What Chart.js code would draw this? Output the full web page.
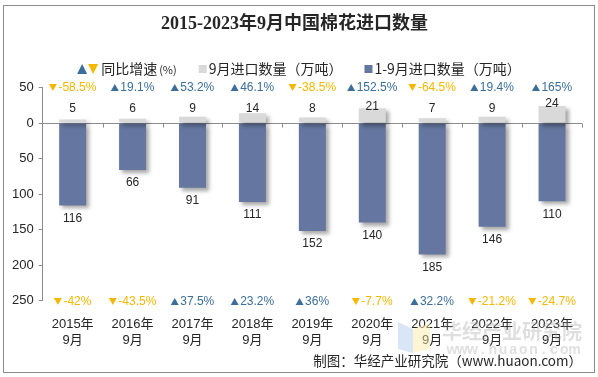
<!DOCTYPE html>
<html><head><meta charset="utf-8">
<script src="https://cdn.jsdelivr.net/npm/chart.js@4.4.0/dist/chart.umd.min.js"></script>
<style>html,body{margin:0;padding:0;background:#fff;}#wrap{width:598px;height:377px;position:relative;}</style>
</head><body><div id="wrap"><canvas id="c" width="598" height="377"></canvas></div>
<script>
// ---- data ----
const categories = [['2015年','9月'],['2016年','9月'],['2017年','9月'],['2018年','9月'],['2019年','9月'],['2020年','9月'],['2021年','9月'],['2022年','9月'],['2023年','9月']];
const septImports = [5, 6, 9, 14, 8, 21, 7, 9, 24];            // 9月进口数量（万吨）
const ytdImports = [116, 66, 91, 111, 152, 140, 185, 146, 110]; // 1-9月进口数量（万吨）
const septYoY = [-58.5, 19.1, 53.2, 46.1, -38.5, 152.5, -64.5, 19.4, 165]; // 9月同比增速(%)
const ytdYoY = [-42, -43.5, 37.5, 23.2, 36, -7.7, 32.2, -21.2, -24.7];      // 1-9月同比增速(%)
const yTickValues = [-50, 0, 50, 100, 150, 200, 250];

const UP = '#3b6e98', DOWN = '#f5b800', GREY = '#d9d9d9', BLUE = '#6577a0', TXT = '#262626';
const SANS = '"Liberation Sans","Noto Sans CJK SC",sans-serif';
const CJK = '"Noto Sans CJK SC","Liberation Sans",sans-serif';

function tri(c, x, y, up, w, h){
  c.beginPath();
  if (up) { c.moveTo(x, y + h/2); c.lineTo(x + w, y + h/2); c.lineTo(x + w/2, y - h/2); }
  else { c.moveTo(x, y - h/2); c.lineTo(x + w, y - h/2); c.lineTo(x + w/2, y + h/2); }
  c.closePath(); c.fill();
}
function pctLabel(c, v, cx, y){
  const t = v + '%';
  const tw = c.measureText(t).width, w = 8, g = 1.5, total = w + g + tw;
  const x0 = cx - total/2;
  c.fillStyle = v >= 0 ? UP : DOWN;
  tri(c, x0, y, v >= 0, w, 7);
  c.textAlign = 'left';
  c.fillText(t, x0 + w + g, y);
}

const deco = {
  id: 'deco',
  beforeDraw(chart){
    const c = chart.ctx;
    c.save();
    c.fillStyle = '#fff'; c.fillRect(0,0,chart.width,chart.height);
    c.strokeStyle = '#8c8c8c'; c.lineWidth = 1;
    c.strokeRect(3.5, 5.5, 591, 367);
    // legend
    const y = 69;
    c.textBaseline = 'middle';
    const t1 = '同比增速', t1b = '(%)', t2 = '9月进口数量（万吨）', t3 = '1-9月进口数量（万吨）';
    c.font = '14px ' + CJK; const w1 = c.measureText(t1).width;
    c.font = '11px ' + CJK; const w1b = c.measureText(t1b).width;
    c.font = '14px ' + CJK; const w2 = c.measureText(t2).width, w3 = c.measureText(t3).width;
    const gap = 22;
    const total = 22 + 2 + w1 + 2 + w1b + gap + 9 + 1 + w2 + gap + 9 + 1 + w3;
    let x = (chart.width - total) / 2;
    c.fillStyle = UP; tri(c, x, y, true, 10, 10);
    c.fillStyle = DOWN; tri(c, x + 11, y, false, 10, 10);
    x += 24;
    c.fillStyle = TXT; c.textAlign = 'left';
    c.font = '14px ' + CJK; c.fillText(t1, x, y); x += w1 + 2;
    c.font = '11px ' + CJK; c.fillText(t1b, x, y+1); x += w1b + gap;
    c.fillStyle = GREY; c.fillRect(x, y-4, 8, 8); x += 10;
    c.fillStyle = TXT; c.font = '14px ' + CJK; c.fillText(t2, x, y); x += w2 + gap;
    c.fillStyle = BLUE; c.fillRect(x, y-4, 8, 8); x += 10;
    c.fillStyle = TXT; c.fillText(t3, x, y);
    c.restore();
  },
  beforeDatasetsDraw(chart){
    const c = chart.ctx, xs = chart.scales.x, ys = chart.scales.y;
    const y0 = Math.round(ys.getPixelForValue(0)) + 0.5;
    c.save();
    c.strokeStyle = '#8c8c8c'; c.lineWidth = 1;
    c.beginPath(); c.moveTo(xs.left, y0); c.lineTo(xs.right, y0);
    const n = categories.length, step = (xs.right - xs.left) / n;
    for (let i = 1; i <= n; i++) { const bx = Math.round(xs.left + i*step) + 0.5; c.moveTo(bx, y0); c.lineTo(bx, y0 + 4); }
    c.stroke();
    c.restore();
    c.save();
    c.shadowColor = 'rgba(0,0,0,0.35)'; c.shadowOffsetX = 3; c.shadowOffsetY = 3; c.shadowBlur = 4;
  },
  afterDatasetsDraw(chart){
    const c = chart.ctx;
    c.restore();
    const xs = chart.scales.x, ys = chart.scales.y;
    c.save();
    c.textAlign = 'center'; c.textBaseline = 'middle';
    c.font = '12px ' + SANS; c.fillStyle = TXT;
    const m0 = chart.getDatasetMeta(0), m1 = chart.getDatasetMeta(1);
    const labY = ys.getPixelForValue(-20);
    septImports.forEach((v, i) => { const b = m0.data[i]; c.fillText(String(v), b.x, Math.min(labY, b.y - 2)); });
    ytdImports.forEach((v, i) => { const b = m1.data[i]; c.fillText(String(v), b.x, b.y + 13); });
    const top = ys.getPixelForValue(-50), bot = ys.getPixelForValue(250);
    septYoY.forEach((v, i) => pctLabel(c, v, xs.getPixelForValue(i), top));
    ytdYoY.forEach((v, i) => pctLabel(c, v, xs.getPixelForValue(i), bot + 1));
    c.restore();
  },
  afterDraw(chart){
    const c = chart.ctx;
    c.save();
    c.globalAlpha = 0.45;
    c.fillStyle = '#a9c8f0';
    c.beginPath(); c.moveTo(398, 322); c.lineTo(413, 329); c.lineTo(413, 353); c.lineTo(398, 349); c.closePath(); c.fill();
    c.fillStyle = '#fbe9a0';
    c.beginPath(); c.moveTo(413, 329); c.lineTo(430, 323); c.lineTo(430, 349); c.lineTo(413, 353); c.closePath(); c.fill();
    c.globalAlpha = 0.32;
    c.fillStyle = '#9a9a9a';
    c.font = 'bold 20px ' + CJK; c.textBaseline = 'middle'; c.textAlign = 'left';
    c.fillText('华经产业研究院', 442, 331);
    c.font = 'bold 14px ' + SANS; c.textAlign = 'center';
    const s = 'www.huaon.com';
    for (let i = 0; i < s.length; i++) c.fillText(s[i], 452 + i * 10.2, 350);
    c.restore();
  }
};

new Chart(document.getElementById('c'), {
  type: 'bar',
  data: {
    labels: categories,
    datasets: [
      { label: '9月进口数量（万吨）', data: septImports.map(v => -v), backgroundColor: GREY, categoryPercentage: 0.9, barPercentage: 0.5 },
      { label: '1-9月进口数量（万吨）', data: ytdImports, backgroundColor: BLUE, categoryPercentage: 0.9, barPercentage: 0.5 }
    ]
  },
  plugins: [deco],
  options: {
    responsive: false, animation: false, devicePixelRatio: 1,
    layout: { padding: { left: 7, right: 16, top: 0, bottom: 0 } },
    plugins: {
      legend: { display: false },
      tooltip: { enabled: false },
      title: { display: true, text: '2015-2023年9月中国棉花进口数量', color: TXT,
        font: { family: '"Liberation Serif","Noto Sans CJK SC",serif', size: 18, weight: 'bold' },
        padding: { top: 14, bottom: 52 } },
      subtitle: { display: true, position: 'bottom', align: 'end', text: '制图：华经产业研究院（www.huaon.com）', color: TXT,
        font: { family: CJK, size: 13.5 }, padding: { top: 5, bottom: 8 } }
    },
    scales: {
      x: { stacked: true, grid: { display: false, drawTicks: false }, border: { display: false },
        afterFit: (s) => { s.height -= 16; },
        ticks: { color: TXT, font: { family: SANS, size: 13 }, padding: 16, maxRotation: 0, autoSkip: false } },
      y: { stacked: true, reverse: true, min: -50, max: 250,
        afterBuildTicks: (s) => { s.ticks = yTickValues.map(v => ({ value: v })); },
        grid: { drawOnChartArea: false, drawTicks: true, tickLength: 4, color: '#8c8c8c' },
        border: { display: true, color: '#8c8c8c' },
        ticks: { color: TXT, font: { family: SANS, size: 13 }, padding: 5, callback: (v) => String(Math.abs(v)) } }
    }
  }
});
</script></body></html>
